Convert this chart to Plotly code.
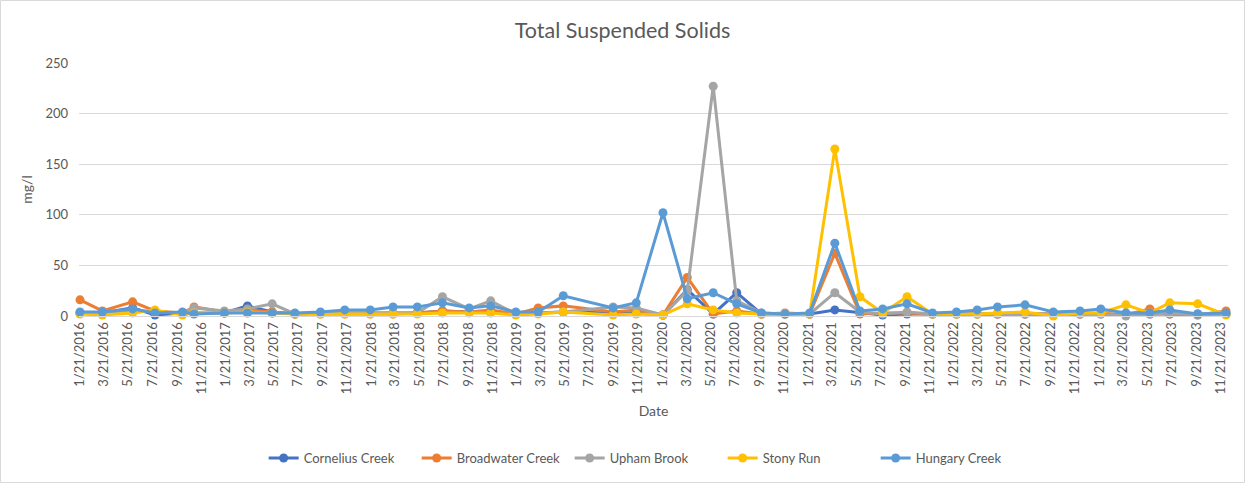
import plotly.graph_objects as go

dates = [
    "2016-01-21", "2016-03-17", "2016-06-01", "2016-07-27", "2016-10-04", "2016-11-02",
    "2017-01-17", "2017-03-16", "2017-05-17", "2017-07-13", "2017-09-15", "2017-11-15",
    "2018-01-18", "2018-03-16", "2018-05-16", "2018-07-18", "2018-09-23", "2018-11-16",
    "2019-01-18", "2019-03-15", "2019-05-17", "2019-09-19", "2019-11-16",
    "2020-01-22", "2020-03-23", "2020-05-27", "2020-07-25", "2020-09-25", "2020-11-23",
    "2021-01-24", "2021-03-28", "2021-05-30", "2021-07-26", "2021-09-25", "2021-11-28",
    "2022-01-27", "2022-03-20", "2022-05-10", "2022-07-18", "2022-09-27", "2022-12-03",
    "2023-01-24", "2023-03-28", "2023-05-27", "2023-07-16", "2023-09-24", "2023-12-04",
]

cornelius = [3, 3, 8, 1, 3, 3, 3, 10, 4, 2, 3, 3,
             3, 3, 3, 5, 4, 4, 2, 3, 4, 3, 3,
             1, 26, 2, 23, 2, 2, 2, 6, 3, 1, 2, 2,
             2, 2, 2, 2, 2, 2, 2, 1, 2, 2, 2, 2]
broadwater = [16, 5, 14, 5, 3, 9, 4, 6, 4, 2, 2, 2,
              2, 2, 3, 5, 4, 6, 2, 8, 10, 4, 6,
              1, 38, 2, 5, 2, 3, 2, 62, 2, 3, 3, 2,
              2, 2, 2, 2, 2, 2, 3, 1, 7, 2, 1, 5]
upham = [3, 3, 6, 4, 3, 8, 5, 7, 12, 2, 3, 3,
         3, 3, 3, 19, 7, 15, 2, 3, 4, 9, 8,
         1, 25, 227, 15, 3, 2, 2, 23, 4, 2, 4, 2,
         2, 2, 2, 2, 2, 2, 2, 0, 2, 3, 1, 2]
stony = [2, 1, 3, 6, 1, 3, 3, 4, 3, 2, 2, 2,
         2, 2, 2, 3, 3, 3, 1, 2, 4, 1, 2,
         1, 12, 6, 3, 2, 2, 2, 165, 19, 3, 19, 2,
         2, 2, 3, 4, 0, 3, 3, 11, 3, 13, 12, 1]
hungary = [4, 4, 7, 3, 4, 2, 3, 3, 3, 3, 4, 6,
           6, 9, 9, 13, 8, 10, 4, 4, 20, 8, 13,
           102, 17, 23, 12, 3, 2, 3, 72, 5, 7, 12, 3,
           4, 6, 9, 11, 4, 5, 7, 3, 3, 6, 2, 3]

series_names = ["Cornelius Creek", "Broadwater Creek", "Upham Brook", "Stony Run", "Hungary Creek"]
series_values = [cornelius, broadwater, upham, stony, hungary]
colors = ["#4472C4", "#ED7D31", "#A5A5A5", "#FFC000", "#5B9BD5"]

tick_dates = [f"{y}-{m:02d}-21" for y in range(2016, 2024) for m in (1, 3, 5, 7, 9, 11)]
tick_labels = [f"{m}/21/{y}" for y in range(2016, 2024) for m in (1, 3, 5, 7, 9, 11)]

fig = go.Figure()
for name, vals, col in zip(series_names, series_values, colors):
    fig.add_trace(go.Scatter(
        x=dates, y=vals, name=name, mode="lines+markers",
        line=dict(color=col, width=3),
        marker=dict(color=col, size=9),
        cliponaxis=False,
    ))

font_fam = "Lato, Open Sans, sans-serif"
grey = "#595959"

L, R, T, B = 79, 17, 63, 167
W, H = 1245, 483
pw, ph = W - L - R, H - T - B
def px(xp):
    return (xp - L) / pw
def py(yp):
    return (H - B - yp) / ph

fig.update_layout(
    width=W, height=H,
    margin=dict(l=L, r=R, t=T, b=B),
    paper_bgcolor="white", plot_bgcolor="white",
    font=dict(family=font_fam, color=grey),
    title=dict(text="Total Suspended Solids", x=0.5, xref="container", xanchor="center",
               y=1 - 30 / H, yref="container", yanchor="middle",
               font=dict(size=21.5, color=grey, family=font_fam)),
    showlegend=True,
    legend=dict(orientation="h", xref="container", yref="container",
                x=0.519, xanchor="center", y=1 - 458 / H, yanchor="middle",
                font=dict(size=13, color=grey), itemwidth=30,
                entrywidth=108, entrywidthmode="pixels",
                traceorder="normal"),
    xaxis=dict(
        type="date", range=["2016-01-18 12:00", "2023-12-09"],
        tickmode="array", tickvals=tick_dates, ticktext=tick_labels,
        tickangle=-90, tickfont=dict(size=13, color=grey),
        showgrid=False, showline=True, linecolor="#D9D9D9", linewidth=1,
        ticks="", zeroline=False,
        title=dict(text="Date", font=dict(size=14, color=grey), standoff=12),
    ),
    yaxis=dict(
        range=[0, 250], dtick=50, tick0=0,
        showgrid=True, gridcolor="#D9D9D9", gridwidth=1,
        zeroline=False, showline=False, ticks="",
        tickfont=dict(size=13, color=grey),
        ticklabelstandoff=10,
        title=dict(text="mg/l", font=dict(size=14, color=grey), standoff=9),
    ),
    shapes=[dict(type="rect", xref="paper", yref="paper",
                 x0=px(0.5), x1=px(W - 0.5), y0=py(H - 0.5), y1=py(0.5),
                 line=dict(color="#D9D9D9", width=1), layer="below")],
)

fig.write_html("out.html", config={"displayModeBar": False},
               post_script="document.body.style.margin='0px';")
